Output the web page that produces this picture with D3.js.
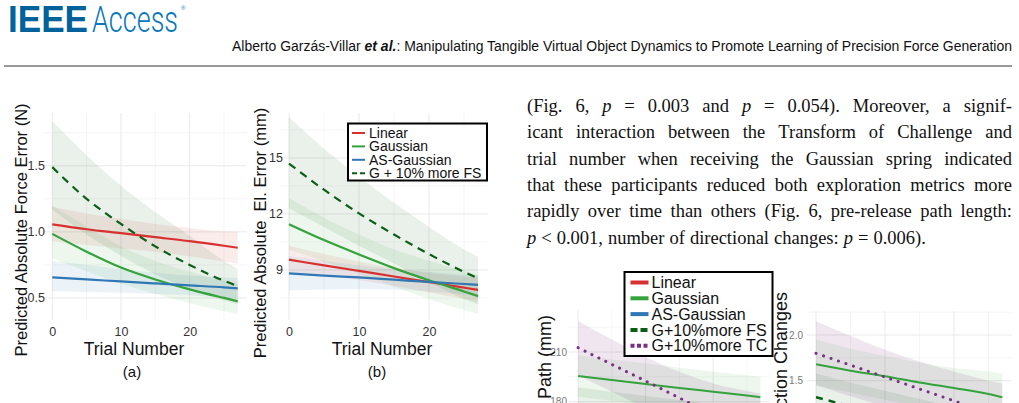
<!DOCTYPE html>
<html>
<head>
<meta charset="utf-8">
<script src="https://cdn.jsdelivr.net/npm/d3@7"></script>
<style>
body{margin:0;background:#fff;}
svg{display:block;font-family:"Liberation Sans",Arial,sans-serif;}
.grid .major{stroke:#e9e9e9;stroke-width:1;}
.grid .minor{stroke:#f2f2f2;stroke-width:0.8;}
.body-text text{font-family:"Liberation Serif","Times New Roman",serif;font-size:18.5px;fill:#111;}
</style>
</head>
<body>
<svg id="page" width="1019" height="403"></svg>
<script>
// trial numbers the values were read at
const trials = [0, 5, 10, 15, 20, 25, 27];

// (a) predicted absolute force error (N)
const aLin   = [1.057, 1.02, 0.99, 0.96, 0.93, 0.895, 0.88];
const aLinLo = [0.93, 0.90, 0.875, 0.85, 0.815, 0.775, 0.76];
const aLinHi = [1.19, 1.14, 1.10, 1.06, 1.03, 1.005, 1.0];
const aGau   = [0.985, 0.85, 0.73, 0.64, 0.565, 0.50, 0.475];
const aGauLo = [0.80, 0.70, 0.61, 0.53, 0.46, 0.40, 0.38];
const aGauHi = [1.20, 1.04, 0.89, 0.78, 0.70, 0.63, 0.61];
const aAs    = [0.655, 0.64, 0.625, 0.61, 0.595, 0.58, 0.572];
const aAsLo  = [0.55, 0.545, 0.54, 0.53, 0.52, 0.505, 0.50];
const aAsHi  = [0.78, 0.75, 0.72, 0.69, 0.67, 0.655, 0.65];
const aFs    = [1.49, 1.25, 1.06, 0.89, 0.75, 0.63, 0.59];
const aFsLo  = [1.17, 0.98, 0.82, 0.68, 0.57, 0.48, 0.45];
const aFsHi  = [1.84, 1.58, 1.35, 1.15, 0.97, 0.78, 0.72];

// (b) predicted absolute elbow error (mm)
const bLin   = [9.55, 9.25, 8.95, 8.65, 8.35, 8.05, 7.93];
const bLinLo = [8.9, 8.7, 8.45, 8.15, 7.8, 7.45, 7.3];
const bLinHi = [10.3, 9.85, 9.45, 9.1, 8.85, 8.65, 8.6];
const bGau   = [11.45, 10.6, 9.83, 9.1, 8.45, 7.85, 7.6];
const bGauLo = [10.1, 9.45, 8.8, 8.1, 7.45, 6.85, 6.65];
const bGauHi = [12.85, 11.8, 10.9, 10.1, 9.5, 8.95, 8.75];
const bAs    = [8.82, 8.7, 8.6, 8.48, 8.36, 8.25, 8.2];
const bAsLo  = [7.9, 7.95, 7.98, 7.95, 7.85, 7.7, 7.65];
const bAsHi  = [9.75, 9.5, 9.25, 9.05, 8.9, 8.75, 8.7];
const bFs    = [14.7, 13.3, 12.03, 10.9, 9.85, 8.9, 8.55];
const bFsLo  = [12.3, 11.3, 10.3, 9.35, 8.35, 7.45, 7.15];
const bFsHi  = [17.2, 15.5, 14.0, 12.6, 11.3, 10.1, 9.7];

// (c) pre-release path (mm), only the top is on the page
const cGau   = [195.5, 193.1, 190.7, 188.3, 186.0, 183.7, 182.7];
const cGauLo = [183, 180.5, 178, 175.5, 173, 171, 170];
const cGauHi = [208, 205.5, 203, 200.5, 198, 196, 195];
const cTc    = [212.6, 202.5, 192.5, 182.3, 172, 162, 158];
const cTcLo  = [196, 186, 176, 165, 153, 141, 136];
const cTcHi  = [228.7, 217.5, 207, 198, 191, 186.5, 185];
const cFs    = [169, 165, 161, 157, 153, 149, 147];
const cFsLo  = [150, 145, 140, 135, 130, 125, 123];
const cFsHi  = [188.5, 186, 183.5, 181, 178.5, 176, 175];

// (d) number of direction changes
const dGau   = [1.68, 1.61, 1.55, 1.48, 1.42, 1.355, 1.32];
const dGauLo = [1.45, 1.37, 1.29, 1.22, 1.16, 1.12, 1.10];
const dGauHi = [1.95, 1.85, 1.77, 1.70, 1.64, 1.60, 1.58];
const dTc    = [1.80, 1.67, 1.54, 1.41, 1.28, 1.15, 1.10];
const dTcLo  = [1.45, 1.33, 1.22, 1.11, 1.0, 0.88, 0.84];
const dTcHi  = [2.15, 1.99, 1.84, 1.71, 1.60, 1.50, 1.47];
const dFs    = [1.32, 1.22, 1.13, 1.05, 0.98, 0.92, 0.90];
const dFsLo  = [1.05, 0.97, 0.9, 0.83, 0.77, 0.72, 0.70];
const dFsHi  = [1.58, 1.48, 1.39, 1.30, 1.22, 1.16, 1.14];

const legendAB = ["Linear", "Gaussian", "AS-Gaussian", "G + 10% more FS"];
const legendCD = ["Linear", "Gaussian", "AS-Gaussian", "G+10%more FS", "G+10%more TC"];

const bodyLines = [
  "(Fig. 6, p = 0.003 and p = 0.054). Moreover, a signif-",
  "icant interaction between the Transform of Challenge and",
  "trial number when receiving the Gaussian spring indicated",
  "that these participants reduced both exploration metrics more",
  "rapidly over time than others (Fig. 6, pre-release path length:",
  "p < 0.001, number of directional changes: p = 0.006)."
];

const col = {
  red: "#d8302f",
  green: "#34a33b",
  blue: "#2f77b5",
  dark: "#0a5f14",
  purple: "#7c2f87"
};

const svg = d3.select("#page");

// ---------- page header ----------
function drawHeader()
{
  svg.append("text")
    .attr("x", 8).attr("y", 32)
    .attr("font-size", 36).attr("font-weight", "bold")
    .attr("textLength", 80).attr("lengthAdjust", "spacingAndGlyphs")
    .attr("fill", "#00629b")
    .text("IEEE");

  svg.append("text")
    .attr("x", 92).attr("y", 32)
    .attr("font-size", 36).attr("font-family", "Roboto, 'Open Sans', sans-serif")
    .attr("font-weight", 300)
    .attr("textLength", 86).attr("lengthAdjust", "spacingAndGlyphs")
    .attr("fill", "#0a78bd")
    .text("Access");

  svg.append("text")
    .attr("x", 181).attr("y", 10)
    .attr("font-size", 6).attr("fill", "#0a78bd")
    .text("®");

  let t = svg.append("text")
    .attr("x", 232).attr("y", 51)
    .attr("font-size", 14)
    .attr("textLength", 780).attr("lengthAdjust", "spacingAndGlyphs")
    .attr("fill", "#111");
  t.append("tspan").text("Alberto Garzás-Villar ");
  t.append("tspan").attr("font-weight", "bold").attr("font-style", "italic").text("et al.");
  t.append("tspan").text(": Manipulating Tangible Virtual Object Dynamics to Promote Learning of Precision Force Generation");

  svg.append("line")
    .attr("x1", 4).attr("x2", 1012)
    .attr("y1", 66).attr("y2", 66)
    .attr("stroke", "#777").attr("stroke-width", 1.5);
}

// ---------- one ggplot-like panel ----------
function drawPanel(cfg)
{
  let g = svg.append("g").classed("panel", true);

  let x = d3.scaleLinear().domain([-1.35, 28.35]).range(cfg.xRange);
  let y = d3.scaleLinear().domain(cfg.yDomain).range(cfg.yRange);

  let clipId = "clip-" + cfg.id;
  g.append("clipPath").attr("id", clipId)
    .append("rect")
    .attr("x", cfg.xRange[0]).attr("y", cfg.yRange[1])
    .attr("width", cfg.xRange[1] - cfg.xRange[0])
    .attr("height", cfg.yRange[0] - cfg.yRange[1]);

  let grid = g.append("g").classed("grid", true);
  grid.selectAll("line.vx")
    .data([0, 5, 10, 15, 20, 25])
    .enter().append("line")
    .attr("class", (d) => d % 10 === 0 ? "major" : "minor")
    .attr("x1", x).attr("x2", x)
    .attr("y1", cfg.yRange[1]).attr("y2", cfg.yRange[0]);
  grid.selectAll("line.hy")
    .data(cfg.yGrid)
    .enter().append("line")
    .attr("class", (d) => cfg.yTicks.includes(d) ? "major" : "minor")
    .attr("x1", cfg.xRange[0]).attr("x2", cfg.xRange[1])
    .attr("y1", y).attr("y2", y);

  let plot = g.append("g").attr("clip-path", "url(#" + clipId + ")");

  let area = d3.area()
    .x((d, i) => x(trials[i]))
    .y0((d) => y(d[0]))
    .y1((d) => y(d[1]))
    .curve(d3.curveMonotoneX);
  let line = d3.line()
    .x((d, i) => x(trials[i]))
    .y((d) => y(d))
    .curve(d3.curveMonotoneX);

  plot.selectAll("path.band")
    .data(cfg.series)
    .enter().append("path")
    .classed("band", true)
    .attr("d", (s) => area(s.lo.map((v, i) => [v, s.hi[i]])))
    .attr("fill", (s) => s.color)
    .attr("fill-opacity", (s) => s.bandOpacity || 0.09)
    .attr("stroke", "none");

  plot.selectAll("path.fit")
    .data(cfg.series)
    .enter().append("path")
    .classed("fit", true)
    .attr("d", (s) => line(s.fit))
    .attr("fill", "none")
    .attr("stroke", (s) => s.color)
    .attr("stroke-width", (s) => s.width || 2.2)
    .attr("stroke-dasharray", (s) => s.dash || null)
    .attr("stroke-linecap", (s) => s.cap || "butt");

  // axes: labels only, no lines
  let yAxis = g.append("g")
    .attr("transform", "translate(" + cfg.yAxisX + ",0)")
    .call(d3.axisLeft(y).tickValues(cfg.yTicks).tickSize(0).tickPadding(0)
      .tickFormat(cfg.yFormat));
  yAxis.select(".domain").remove();
  yAxis.selectAll("text")
    .attr("font-size", cfg.tickSize)
    .attr("font-family", "'Liberation Sans', Arial, sans-serif")
    .attr("fill", cfg.tickColor);

  if(cfg.xAxisY)
  {
    let xAxis = g.append("g")
      .attr("transform", "translate(0," + cfg.xAxisY + ")")
      .call(d3.axisBottom(x).tickValues([0, 10, 20]).tickSize(0).tickPadding(5));
    xAxis.select(".domain").remove();
    xAxis.selectAll("text")
      .attr("font-size", cfg.tickSize)
      .attr("font-family", "'Liberation Sans', Arial, sans-serif")
      .attr("fill", cfg.tickColor);
  }

  svg.append("text")
    .attr("transform", "translate(" + cfg.yLabel.x + "," + cfg.yLabel.y + ") rotate(-90)")
    .attr("text-anchor", cfg.yLabel.anchor)
    .attr("font-size", cfg.yLabel.size)
    .style("white-space", "pre")
    .attr("fill", "#111")
    .text(cfg.yLabel.text);

  if(cfg.xLabel)
  {
    svg.append("text")
      .attr("x", cfg.xLabel.x).attr("y", 355)
      .attr("text-anchor", "middle")
      .attr("font-size", 17.5).attr("fill", "#111")
      .text("Trial Number");
    svg.append("text")
      .attr("x", cfg.xLabel.sub).attr("y", 377)
      .attr("text-anchor", "middle")
      .attr("font-size", 15).attr("fill", "#111")
      .text(cfg.xLabel.tag);
  }
}

function drawLegend(cfg)
{
  let g = svg.append("g").attr("transform", "translate(" + cfg.x + "," + cfg.y + ")");
  g.append("rect")
    .attr("width", cfg.w).attr("height", cfg.h)
    .attr("fill", "#fff").attr("stroke", "#000").attr("stroke-width", 2);

  let rows = g.selectAll("g.row")
    .data(cfg.items)
    .enter().append("g")
    .classed("row", true)
    .attr("transform", (d, i) => "translate(0," + (cfg.first + i * cfg.step) + ")");

  rows.append("line")
    .attr("x1", cfg.keyX).attr("x2", cfg.keyX + cfg.keyW)
    .attr("stroke", (d) => d.color)
    .attr("stroke-width", cfg.keyStroke)
    .attr("stroke-dasharray", (d) => d.dash || null);

  rows.append("text")
    .attr("x", cfg.keyX + cfg.keyW + cfg.gap)
    .attr("dy", "0.36em")
    .attr("font-size", cfg.font)
    .attr("fill", "#111")
    .text((d) => d.label);
}

// ---------- justified body text ----------
function drawBody()
{
  let g = svg.append("g").classed("body-text", true);
  let x0 = 527, x1 = 1012;
  bodyLines.forEach((ln, li) =>
  {
    let yy = 112 + li * 26.3;
    let words = ln.split(" ");
    let nodes = words.map((w) =>
    {
      let t = g.append("text").attr("y", yy);
      t.text(w);
      if(w === "p") { t.attr("font-style", "italic"); }
      return t;
    });
    let widths = nodes.map((n) => n.node().getComputedTextLength());
    let last = li === bodyLines.length - 1;
    let gap = last ? 5 : (x1 - x0 - d3.sum(widths)) / (words.length - 1);
    let xx = x0;
    nodes.forEach((n, i) => { n.attr("x", xx); xx += widths[i] + gap; });
  });
}

drawHeader();

drawPanel({
  id: "a",
  xRange: [43, 247], yRange: [320, 113], yDomain: [0.333, 1.90],
  yGrid: [0.5, 0.75, 1.0, 1.25, 1.5, 1.75], yTicks: [0.5, 1.0, 1.5],
  yFormat: d3.format(".1f"), yAxisX: 45, xAxisY: 322,
  tickSize: 12.5, tickColor: "#333",
  yLabel: {x: 27, y: 230, anchor: "middle", size: 16.5, text: "Predicted Absolute Force Error (N)"},
  xLabel: {x: 134, sub: 132, tag: "(a)"},
  series: [
    {fit: aLin, lo: aLinLo, hi: aLinHi, color: col.red},
    {fit: aGau, lo: aGauLo, hi: aGauHi, color: col.green},
    {fit: aAs, lo: aAsLo, hi: aAsHi, color: col.blue},
    {fit: aFs, lo: aFsLo, hi: aFsHi, color: col.dark, dash: "8,6"}
  ]
});

drawPanel({
  id: "b",
  xRange: [279.5, 487.5], yRange: [320, 113], yDomain: [6.32, 17.41],
  yGrid: [7.5, 9, 10.5, 12, 13.5, 15, 16.5], yTicks: [9, 12, 15],
  yFormat: d3.format("d"), yAxisX: 283, xAxisY: 322,
  tickSize: 12.5, tickColor: "#333",
  yLabel: {x: 266, y: 233, anchor: "middle", size: 16.5, text: "Predicted Absolute  El. Error (mm)"},
  xLabel: {x: 382, sub: 377, tag: "(b)"},
  series: [
    {fit: bLin, lo: bLinLo, hi: bLinHi, color: col.red},
    {fit: bGau, lo: bGauLo, hi: bGauHi, color: col.green},
    {fit: bAs, lo: bAsLo, hi: bAsHi, color: col.blue},
    {fit: bFs, lo: bFsLo, hi: bFsHi, color: col.dark, dash: "8,6"}
  ]
});

drawLegend({
  x: 348, y: 123.5, w: 139, h: 57,
  first: 9.5, step: 13.4, keyX: 4, keyW: 13, gap: 4, font: 14, keyStroke: 2,
  items: [
    {label: legendAB[0], color: col.red},
    {label: legendAB[1], color: col.green},
    {label: legendAB[2], color: col.blue},
    {label: legendAB[3], color: col.dark, dash: "5,3"}
  ]
});

drawBody();

drawPanel({
  id: "c",
  xRange: [569, 769.5], yRange: [403, 310], yDomain: [179.2, 235.35],
  yGrid: [180, 195, 210, 225], yTicks: [180, 210],
  yFormat: d3.format("d"), yAxisX: 567, xAxisY: null,
  tickSize: 10, tickColor: "#7a7a7a",
  yLabel: {x: 551, y: 315, anchor: "end", size: 18, text: "Pre-release Path (mm)"},
  series: [
    {fit: cGau, lo: cGauLo, hi: cGauHi, color: col.green, width: 2},
    {fit: cFs, lo: cFsLo, hi: cFsHi, color: col.dark, width: 2, dash: "7,6"},
    {fit: cTc, lo: cTcLo, hi: cTcHi, color: col.purple, width: 3, dash: "0.1,7.6", cap: "round", bandOpacity: 0.12}
  ]
});

drawPanel({
  id: "d",
  xRange: [806.7, 1011.6], yRange: [403, 311], yDomain: [1.256, 2.263],
  yGrid: [1.5, 1.75, 2.0, 2.25], yTicks: [1.5, 2.0],
  yFormat: d3.format(".1f"), yAxisX: 803, xAxisY: null,
  tickSize: 10, tickColor: "#7a7a7a",
  yLabel: {x: 787, y: 292, anchor: "end", size: 18, text: "Number of Direction Changes"},
  series: [
    {fit: dGau, lo: dGauLo, hi: dGauHi, color: col.green, width: 2},
    {fit: dFs, lo: dFsLo, hi: dFsHi, color: col.dark, width: 2.5, dash: "7,6"},
    {fit: dTc, lo: dTcLo, hi: dTcHi, color: col.purple, width: 3, dash: "0.1,7.8", cap: "round", bandOpacity: 0.12}
  ]
});

drawLegend({
  x: 624.5, y: 272, w: 148, h: 84,
  first: 10.5, step: 15.8, keyX: 6, keyW: 18, gap: 3, font: 16, keyStroke: 4,
  items: [
    {label: legendCD[0], color: col.red},
    {label: legendCD[1], color: col.green},
    {label: legendCD[2], color: col.blue},
    {label: legendCD[3], color: col.dark, dash: "7,3"},
    {label: legendCD[4], color: col.purple, dash: "4,2.5"}
  ]
});
</script>
</body>
</html>
